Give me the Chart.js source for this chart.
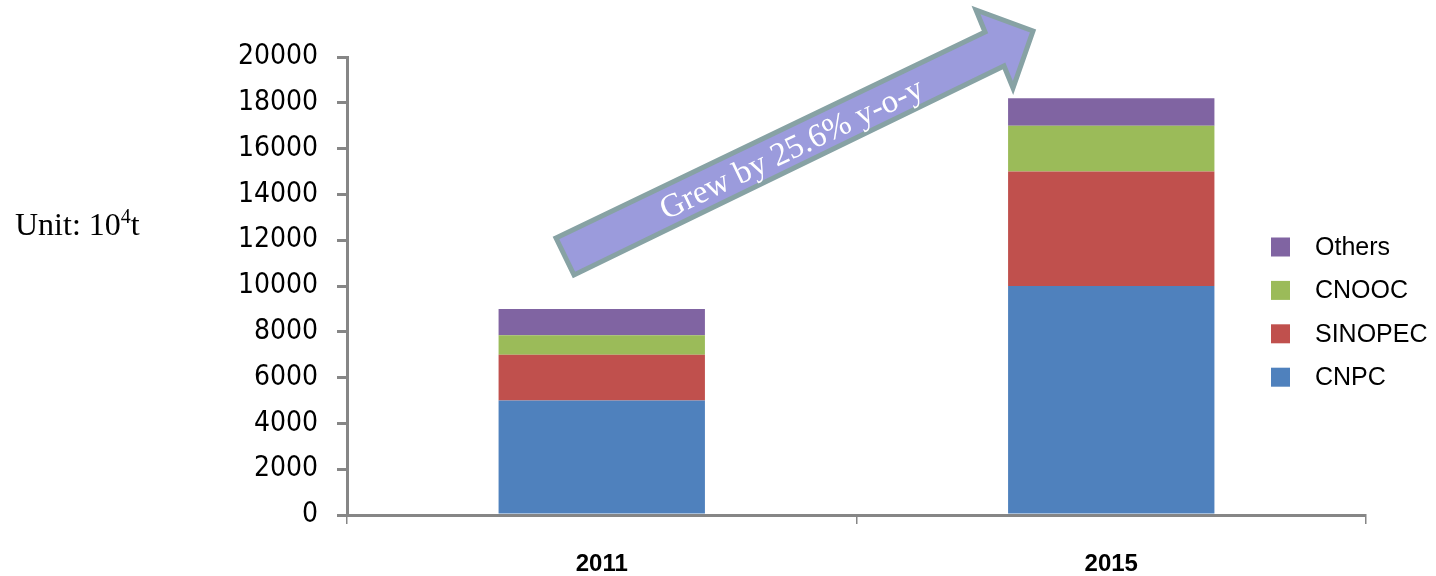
<!DOCTYPE html>
<html>
<head>
<meta charset="utf-8">
<script src="https://cdn.jsdelivr.net/npm/chart.js@4.4.0/dist/chart.umd.min.js"></script>
<style>
  body { margin: 0; background: #fff; }
  #wrap { position: relative; width: 1436px; height: 576px; }
  #unit { position: absolute; left: 15px; top: 205px; font-family: "Liberation Serif", "Times New Roman", serif; font-size: 32px; color: #000; }
  #unit sup { font-size: 20px; }
</style>
</head>
<body>
<div id="wrap">
  <canvas id="barGraph" width="1436" height="576"></canvas>
  <div id="unit">Unit: 10<sup>4</sup>t</div>
</div>
<script>
const years = ["2011", "2015"];
const cnpc = [5000, 10000];
const sinopec = [2000, 5000];
const cnooc = [850, 2000];
const others = [1150, 1200];
const yTicks = [0, 2000, 4000, 6000, 8000, 10000, 12000, 14000, 16000, 18000, 20000];
const arrowText = "Grew by 25.6% y-o-y";

const axisGray = '#868686';

// legend drawn on the right, reversed (Others on top)
const sideLegend = {
    id: 'sideLegend',
    afterDraw(chart){
        const ctx = chart.ctx;
        const sets = chart.data.datasets.slice().reverse();
        ctx.save();
        ctx.font = '25px "Liberation Sans", Arial, sans-serif';
        ctx.textBaseline = 'middle';
        sets.forEach((ds, i) => {
            const y = 247 + i * 43.4;
            ctx.fillStyle = ds.backgroundColor;
            ctx.fillRect(1271, y - 9.5, 19, 19);
            ctx.fillStyle = '#000';
            ctx.fillText(ds.label, 1315, y + 1);
        });
        ctx.restore();
    }
};

// the "growth" arrow
const growthArrow = {
    id: 'growthArrow',
    afterDraw(chart){
        const ctx = chart.ctx;
        ctx.save();
        ctx.beginPath();
        ctx.moveTo(556, 238);
        ctx.lineTo(985, 32);
        ctx.lineTo(976, 10);
        ctx.lineTo(1033, 31);
        ctx.lineTo(1013, 88);
        ctx.lineTo(1004, 66);
        ctx.lineTo(574, 275);
        ctx.closePath();
        ctx.fillStyle = '#9b9bdc';
        ctx.fill();
        ctx.lineWidth = 5;
        ctx.lineJoin = 'miter';
        ctx.strokeStyle = '#87a2a4';
        ctx.stroke();

        ctx.translate(792, 150);
        ctx.rotate(-25.6 * Math.PI / 180);
        ctx.font = '33px "Liberation Serif", "Times New Roman", serif';
        ctx.fillStyle = '#fff';
        ctx.textAlign = 'center';
        ctx.textBaseline = 'middle';
        ctx.fillText(arrowText, 0, 0);
        ctx.restore();
    }
};

function BarGraph(){
    const ctx = document.getElementById('barGraph').getContext('2d');

    const chart = new Chart(ctx, {
        type: 'bar',
        data: {
            labels: years,
            datasets: [
                { label: 'CNPC', data: cnpc, backgroundColor: '#4f81bd' },
                { label: 'SINOPEC', data: sinopec, backgroundColor: '#c0504d' },
                { label: 'CNOOC', data: cnooc, backgroundColor: '#9bbb59' },
                { label: 'Others', data: others, backgroundColor: '#8064a2' }
            ]
        },
        options: {
            responsive: false,
            animation: false,
            layout: { padding: { top: 57, right: 70, left: 0, bottom: 0 } },
            datasets: {
                bar: { categoryPercentage: 1, barPercentage: 0.405, borderWidth: 0 }
            },
            plugins: {
                legend: { display: false },
                tooltip: { enabled: false }
            },
            scales: {
                x: {
                    stacked: true,
                    grid: { offset: true, drawOnChartArea: false, tickLength: 9, color: axisGray, lineWidth: 1.5 },
                    border: { color: axisGray, width: 3 },
                    ticks: {
                        color: '#000',
                        padding: 26,
                        font: { family: '"Liberation Sans", Arial, sans-serif', size: 24, weight: 'bold' }
                    },
                    afterFit(scale){ scale.height = 61; }
                },
                y: {
                    stacked: true,
                    min: 0,
                    max: 20000,
                    afterBuildTicks(scale){ scale.ticks = yTicks.map(v => ({ value: v })); },
                    grid: { drawOnChartArea: false, tickLength: 10, color: axisGray, lineWidth: 3 },
                    border: { color: axisGray, width: 3 },
                    ticks: {
                        color: '#000',
                        padding: 19,
                        callback: v => String(v),
                        font: { family: '"DejaVu Sans Condensed", "DejaVu Sans", Verdana, sans-serif', size: 28 }
                    },
                    afterFit(scale){ scale.width = 347; }
                }
            }
        },
        plugins: [sideLegend, growthArrow]
    });
}

BarGraph();
</script>
</body>
</html>
